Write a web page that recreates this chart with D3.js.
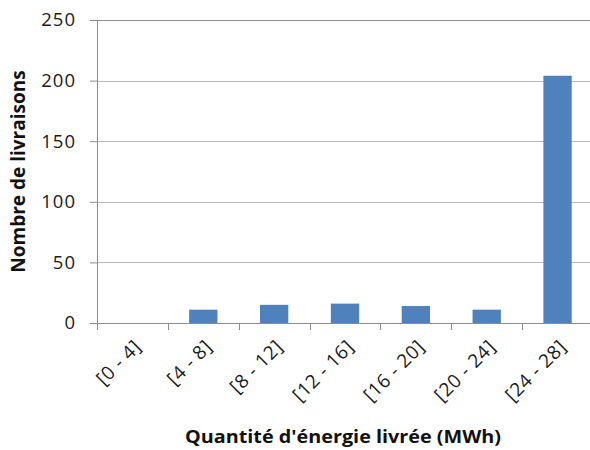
<!DOCTYPE html>
<html>
<head>
<meta charset="utf-8">
<script src="https://cdn.jsdelivr.net/npm/d3@7"></script>
<style>
  html, body { margin: 0; padding: 0; background: #fff; }
  svg { display: block; font-family: "Open Sans", "Liberation Sans", sans-serif; }
</style>
</head>
<body>
<svg id="chart" width="590" height="450"></svg>
<script>
// Energy delivered per delivery, grouped in 4 MWh classes
const categories = ["[0 - 4]", "[4 - 8]", "[8 - 12]", "[12 - 16]", "[16 - 20]", "[20 - 24]", "[24 - 28]"];
const deliveries = [0, 11, 15, 16, 14, 11, 204];
const yTicks = [0, 50, 100, 150, 200, 250];
const xTitle = "Quantité d'énergie livrée (MWh)";
const yTitle = "Nombre de livraisons";

const svg = d3.select("#chart");
const margin = { left: 97, right: -3, top: 20, bottom: 127 };
const width = 590 - margin.left - margin.right;
const height = 450 - margin.top - margin.bottom;

const x = d3.scaleBand()
  .domain(categories)
  .range([0, width])
  .paddingInner(0.6)
  .paddingOuter(0.3);

const y = d3.scaleLinear()
  .domain([0, 250])
  .range([height, 0]);

const g = svg.append("g").attr("transform", `translate(${margin.left},${margin.top})`);

// horizontal gridlines
g.append("g")
  .selectAll("line")
  .data(yTicks.filter(d => d > 0))
  .join("line")
  .attr("x1", 0)
  .attr("x2", width)
  .attr("y1", d => Math.round(y(d)) + 0.5)
  .attr("y2", d => Math.round(y(d)) + 0.5)
  .attr("stroke", d => d === 250 ? "#8c8c8c" : "#bababa")
  .attr("stroke-width", 1);

// bars
g.append("g")
  .selectAll("rect")
  .data(categories.map((c, i) => ({ c, v: deliveries[i] })))
  .join("rect")
  .attr("x", d => x(d.c))
  .attr("width", x.bandwidth())
  .attr("y", d => y(d.v))
  .attr("height", d => y(0) - y(d.v))
  .attr("fill", "#4f81bd");

// y axis
const yAxis = g.append("g")
  .call(d3.axisLeft(y).tickValues(yTicks).tickSize(7).tickPadding(14).tickSizeOuter(0));
yAxis.select(".domain").attr("stroke", "#8c8c8c");
yAxis.selectAll(".tick line").attr("stroke", "#8c8c8c");
yAxis.selectAll(".tick text")
  .attr("font-size", 18.5)
  .attr("letter-spacing", 1)
  .attr("fill", "#1a1a1a")
  .attr("font-family", "Open Sans, sans-serif");

// x axis: ticks on the category boundaries
const xAxisG = g.append("g").attr("transform", `translate(0,${height})`);
xAxisG.append("line")
  .attr("x1", 0).attr("x2", width)
  .attr("y1", 0.5).attr("y2", 0.5)
  .attr("stroke", "#8c8c8c");
const step = x.step();
const bounds = d3.range(categories.length + 1).map(i => i * step);
xAxisG.selectAll("line.tk")
  .data(bounds)
  .join("line")
  .attr("class", "tk")
  .attr("x1", d => Math.round(d) + 0.5)
  .attr("x2", d => Math.round(d) + 0.5)
  .attr("y1", 0)
  .attr("y2", 7)
  .attr("stroke", "#8c8c8c");

xAxisG.selectAll("text.lbl")
  .data(categories)
  .join("text")
  .attr("class", "lbl")
  .attr("text-anchor", "end")
  .attr("font-size", 19)
  .attr("letter-spacing", 0.6)
  .attr("fill", "#1a1a1a")
  .attr("transform", d => `translate(${x(d) + x.bandwidth() / 2 + 10},${25}) rotate(-45)`)
  .text(d => d);

// axis titles
svg.append("text")
  .attr("transform", `translate(${margin.left + width / 2 - 2},443) scale(1.1,1)`)
  .attr("text-anchor", "middle")
  .attr("font-size", 18)
  .attr("font-weight", "bold")
  .attr("fill", "#111")
  .text(xTitle);

svg.append("text")
  .attr("transform", `translate(25,${margin.top + height / 2}) rotate(-90)`)
  .attr("text-anchor", "middle")
  .attr("font-size", 19)
  .attr("font-weight", "bold")
  .attr("fill", "#111")
  .text(yTitle);
</script>
</body>
</html>
